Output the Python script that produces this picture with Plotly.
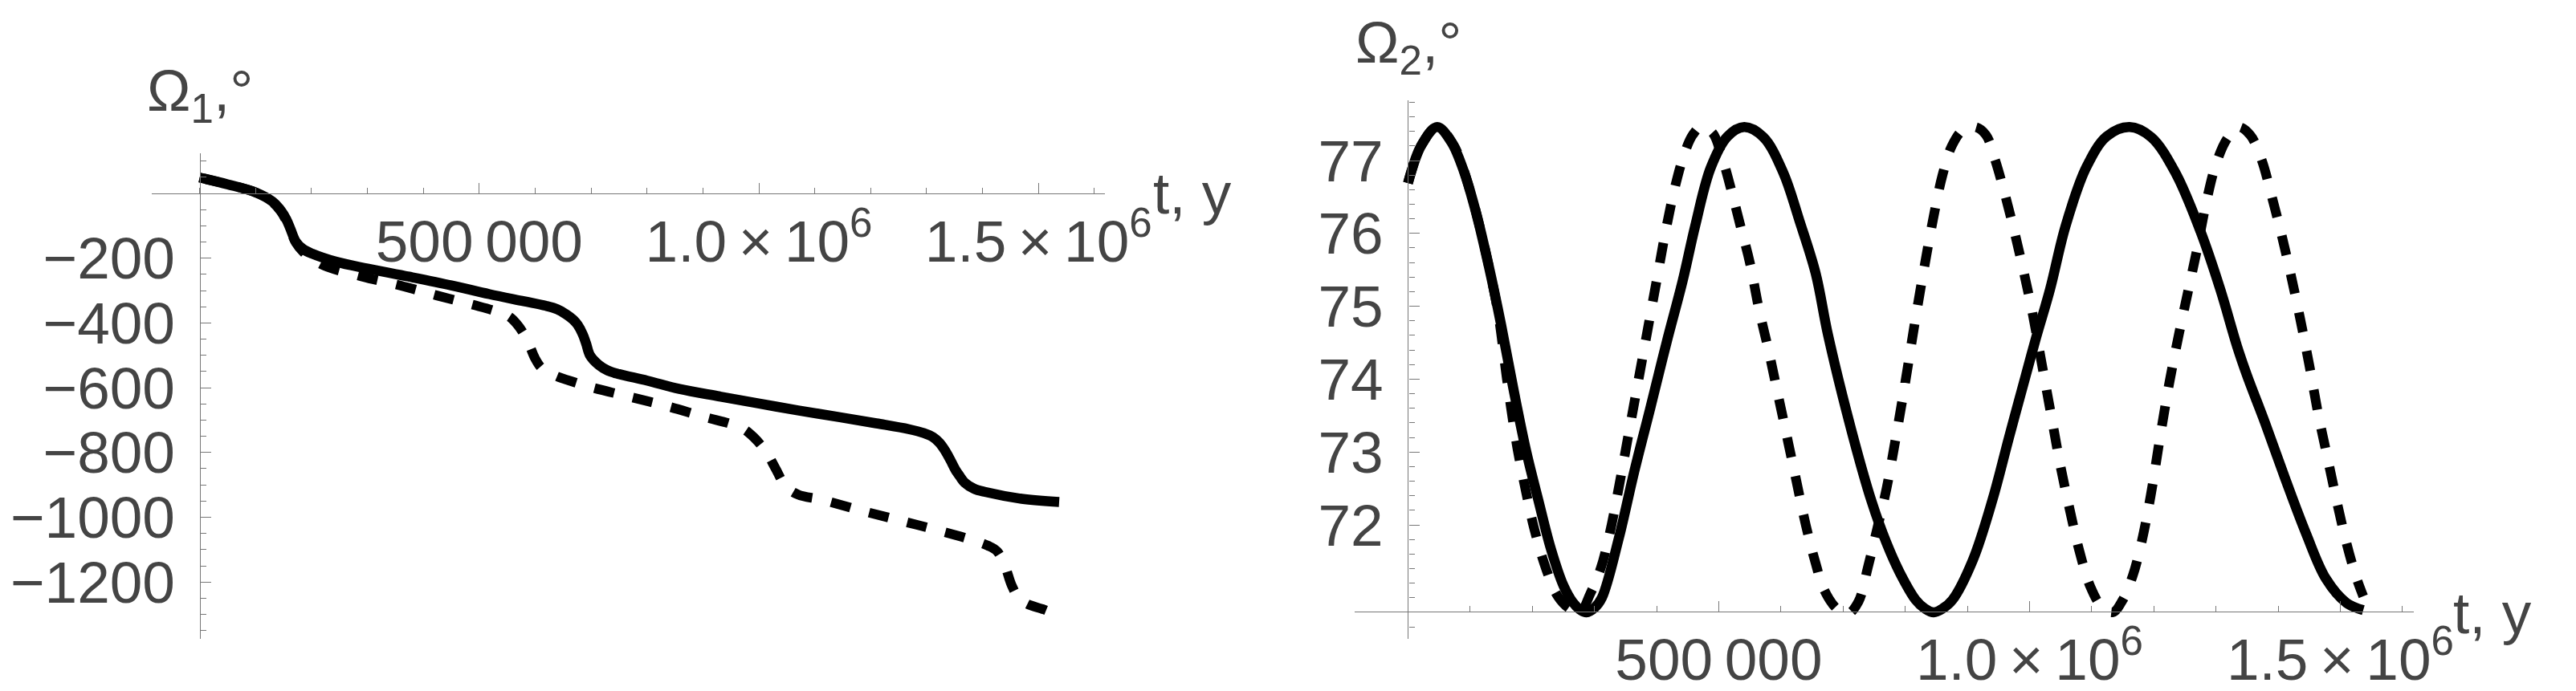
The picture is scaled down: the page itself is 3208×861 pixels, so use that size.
import plotly.graph_objects as go

W, H = 3208, 861

# ---- data (t in years, angles in degrees) ----
t_om1_solid = [0, 50e3, 100e3, 130e3, 145e3, 155e3, 162e3, 172e3, 185e3, 201e3, 244e3, 300e3,
               374e3, 450e3, 518e3, 580e3, 619e3, 640e3, 655e3, 668e3, 676e3, 685e3, 691e3,
               698e3, 714e3, 730e3, 750e3, 800e3, 858e3, 930e3, 1001e3, 1070e3, 1145e3,
               1210e3, 1268e3, 1295e3, 1311e3, 1323e3, 1333e3, 1343e3, 1351e3, 1360e3,
               1368e3, 1385e3, 1405e3, 1470e3, 1537e3]
om1_solid = [49, 28, 3, -25, -52, -80, -108, -149, -172, -186, -211, -232,
             -257, -284, -311, -333, -347, -358, -373, -390, -406, -435, -463,
             -500, -530, -547, -558, -578, -604, -627, -649, -670, -691,
             -710, -728, -740, -752, -770, -794, -825, -852, -875,
             -893, -912, -922, -943, -953]

t_om1_dash = [0, 50e3, 100e3, 130e3, 145e3, 155e3, 162e3, 172e3, 185e3, 200e3, 223e3, 291e3,
              360e3, 424e3, 489e3, 530e3, 554e3, 568e3, 580e3, 590e3, 600e3, 612e3, 636e3,
              670e3, 703e3, 771e3, 836e3, 904e3, 950e3, 975e3, 992e3, 1005e3, 1016e3,
              1030e3, 1048e3, 1070e3, 1113e3, 1182e3, 1250e3, 1315e3, 1383e3, 1410e3,
              1426e3, 1440e3, 1452e3, 1465e3, 1480e3, 1510e3, 1537e3]
om1_dash = [49, 28, 3, -27, -55, -85, -113, -152, -180, -200, -223, -257,
            -285, -315, -344, -364, -381, -405, -435, -470, -510, -540, -563,
            -583, -600, -629, -657, -691, -712, -730, -755, -780, -806,
            -850, -904, -930, -946, -979, -1009, -1038, -1071, -1088,
            -1105, -1150, -1210, -1250, -1268, -1285, -1305]

t_om2_solid = [0, 21.6e3, 47e3, 70e3, 90e3, 110e3, 130e3, 150e3, 170e3, 190e3, 210e3, 230e3,
               250e3, 265e3, 278e3, 287e3, 300e3, 312e3, 339e3, 364e3, 391e3, 416e3, 442e3,
               462e3, 487e3, 514e3, 541e3, 572e3, 604e3, 630e3, 656e3, 676e3, 714e3, 746e3,
               770e3, 791e3, 817e3, 832e3, 846e3, 860e3, 876e3, 909e3, 941e3, 967e3, 994e3,
               1010e3, 1033e3, 1058e3, 1091e3, 1124e3, 1161e3, 1196e3, 1235e3, 1275e3,
               1307e3, 1334e3, 1350e3, 1379e3, 1412e3, 1445e3, 1477e3, 1510e3, 1537e3]
om2_solid = [76.69, 77.21, 77.46, 77.25, 76.85, 76.27, 75.55, 74.74, 73.85, 73.02, 72.33, 71.67,
             71.17, 70.94, 70.83, 70.80, 70.86, 71.0, 71.81, 72.73, 73.64, 74.5, 75.35,
             76.1, 76.9, 77.33, 77.46, 77.32, 76.83, 76.17, 75.45, 74.6, 73.28, 72.32,
             71.75, 71.35, 70.97, 70.85, 70.80, 70.85, 70.97, 71.52, 72.36, 73.2, 74.05,
             74.55, 75.23, 76.1, 76.9, 77.33, 77.46, 77.32, 76.83, 76.03,
             75.23, 74.45, 74.05, 73.4, 72.62, 71.88, 71.26, 70.93, 70.83]

t_om2_dash = [0, 21.6e3, 47e3, 73.6e3, 99e3, 118e3, 138e3, 147e3, 160e3, 176e3, 190e3, 203e3,
              222e3, 241e3, 260e3, 277e3, 293e3, 310e3, 325e3, 340e3, 355e3, 370e3, 385e3,
              400e3, 415e3, 430e3, 445e3, 458e3, 471e3, 490e3, 505e3, 520e3, 535e3, 550e3,
              565e3, 580e3, 595e3, 610e3, 625e3, 640e3, 655e3, 670e3, 690e3, 708e3, 725e3,
              740e3, 755e3, 770e3, 785e3, 800e3, 815e3, 830e3, 845e3, 860e3, 875e3, 893e3,
              913e3, 930e3, 945e3, 960e3, 975e3, 990e3, 1005e3, 1020e3, 1035e3, 1050e3,
              1065e3, 1080e3, 1098e3, 1116e3, 1134e3, 1150e3, 1166e3, 1180e3, 1195e3,
              1210e3, 1225e3, 1240e3, 1255e3, 1270e3, 1285e3, 1300e3, 1318e3, 1336e3,
              1355e3, 1373e3, 1390e3, 1405e3, 1420e3, 1435e3, 1450e3, 1465e3, 1480e3,
              1495e3, 1510e3, 1525e3, 1537e3]
om2_dash = [76.69, 77.21, 77.46, 77.21, 76.61, 76.0, 75.23, 74.8, 73.95, 73.05, 72.45, 71.95,
            71.4, 71.02, 70.85, 70.80, 71.05, 71.4, 71.9, 72.55, 73.25, 73.95, 74.65,
            75.35, 76.05, 76.65, 77.1, 77.35, 77.46, 77.38, 77.05, 76.6, 76.1, 75.6,
            74.95, 74.4, 73.8, 73.2, 72.6, 72.0, 71.5, 71.1, 70.85, 70.78, 70.95,
            71.42, 71.95, 72.5, 73.2, 73.95, 74.75, 75.5, 76.2, 76.8, 77.2, 77.42,
            77.46, 77.35, 77.0, 76.55, 76.05, 75.5, 74.9, 74.2, 73.5, 72.8,
            72.2, 71.65, 71.15, 70.88, 70.80, 70.97, 71.3, 71.75, 72.4,
            73.2, 73.95, 74.6, 75.2, 75.8, 76.45, 76.95, 77.3, 77.46,
            77.35, 77.02, 76.5, 76.0, 75.45, 74.85, 74.2, 73.5, 72.9,
            72.3, 71.75, 71.3, 71.02]

x_tickvals = [500000, 1000000, 1500000]
x_ticktext = ["500\u2009000", "1.0\u2009\u00d7\u200910<sup>6</sup>", "1.5\u2009\u00d7\u200910<sup>6</sup>"]
y1_tickvals = [-200, -400, -600, -800, -1000, -1200]
y2_tickvals = [72, 73, 74, 75, 76, 77]


def fx(px):
    return px / W


def fy(py):
    return 1 - py / H


FONT = "Liberation Sans, Arial, sans-serif"
FSIZE = 73
TXT = "#444444"
AX = "#777777"

fig = go.Figure()

solid = dict(color="black", width=12.5)
dashed = dict(color="black", width=12, dash="25px,24px")

fig.add_trace(go.Scatter(x=t_om1_solid, y=om1_solid, mode="lines", line=solid,
                         line_shape="spline", xaxis="x", yaxis="y"))
fig.add_trace(go.Scatter(x=t_om1_dash, y=om1_dash, mode="lines", line=dashed,
                         line_shape="spline", xaxis="x", yaxis="y"))
fig.add_trace(go.Scatter(x=t_om2_solid, y=om2_solid, mode="lines", line=solid,
                         line_shape="spline", xaxis="x2", yaxis="y2"))
fig.add_trace(go.Scatter(x=t_om2_dash, y=om2_dash, mode="lines", line=dashed,
                         line_shape="spline", xaxis="x2", yaxis="y2"))

# pixel layout of the two Mathematica-style axes frames
L_x0, L_x1, L_t0, L_ppx = 184, 1393, 245, 70.9e-5      # px per year
L_y0, L_y1, L_v0, L_ppv = 183, 788, 233, 0.4035        # px per degree
R_x0, R_x1, R_t0, R_ppx = 1709, 3052, 1777, 78.8e-5
R_y0, R_y1, R_ax, R_ppv = 117, 788, 754, 90.8          # 72 deg sits at y=646

xcommon = dict(tickmode="array", tickvals=x_tickvals, ticktext=x_ticktext,
               ticks="inside", ticklen=13, tickwidth=1, tickcolor=AX,
               showline=True, linecolor=AX, linewidth=1.2, showgrid=False,
               zeroline=False, anchor="free", ticklabelstandoff=-4,
               tickfont=dict(family=FONT, size=FSIZE, color=TXT),
               minor=dict(tickmode="linear", tick0=0, dtick=100000, ticks="inside",
                          ticklen=7, tickwidth=1, tickcolor=AX))
ycommon = dict(tickmode="array", ticks="inside", ticklen=13, tickwidth=1, tickcolor=AX,
               showline=True, linecolor=AX, linewidth=1.2, showgrid=False,
               zeroline=False, anchor="free", ticklabelstandoff=16,
               tickfont=dict(family=FONT, size=FSIZE, color=TXT))

fig.update_layout(
    width=W, height=H,
    margin=dict(l=0, r=0, t=0, b=0),
    paper_bgcolor="white", plot_bgcolor="white",
    showlegend=False,
    xaxis=dict(xcommon, domain=[fx(L_x0), fx(L_x1)],
               range=[(L_x0 - L_t0) / L_ppx, (L_x1 - L_t0) / L_ppx],
               position=fy(L_v0)),
    yaxis=dict(ycommon, domain=[fy(L_y1), fy(L_y0)],
               range=[-(L_y1 - L_v0) / L_ppv, -(L_y0 - L_v0) / L_ppv],
               position=fx(L_t0), tickvals=y1_tickvals,
               minor=dict(tickmode="linear", tick0=0, dtick=50, ticks="inside",
                          ticklen=7, tickwidth=1, tickcolor=AX)),
    xaxis2=dict(xcommon, domain=[fx(R_x0), fx(R_x1)],
                range=[(R_x0 - R_t0) / R_ppx, (R_x1 - R_t0) / R_ppx],
                position=fy(R_ax)),
    yaxis2=dict(ycommon, domain=[fy(R_y1), fy(R_y0)],
                range=[72 + (646 - R_y1) / R_ppv, 72 + (646 - R_y0) / R_ppv],
                position=fx(R_t0), tickvals=y2_tickvals,
                minor=dict(tickmode="linear", tick0=0, dtick=0.2, ticks="inside",
                           ticklen=7, tickwidth=1, tickcolor=AX)),
)

lab = dict(family=FONT, size=FSIZE, color=TXT)
fig.add_annotation(text="\u03a9<sub>1</sub>,\u00b0", x=fx(176), y=fy(110), xref="paper",
                   yref="paper", xanchor="left", yanchor="middle", showarrow=False, font=lab)
fig.add_annotation(text="t, y", x=fx(1452), y=fy(232), xref="paper", yref="paper",
                   xanchor="left", yanchor="middle", showarrow=False, font=lab)
fig.add_annotation(text="\u03a9<sub>2</sub>,\u00b0", x=fx(1708), y=fy(50), xref="paper",
                   yref="paper", xanchor="left", yanchor="middle", showarrow=False, font=lab)
fig.add_annotation(text="t, y", x=fx(3100), y=fy(755), xref="paper", yref="paper",
                   xanchor="left", yanchor="middle", showarrow=False, font=lab)

fig.write_html("out.html")
